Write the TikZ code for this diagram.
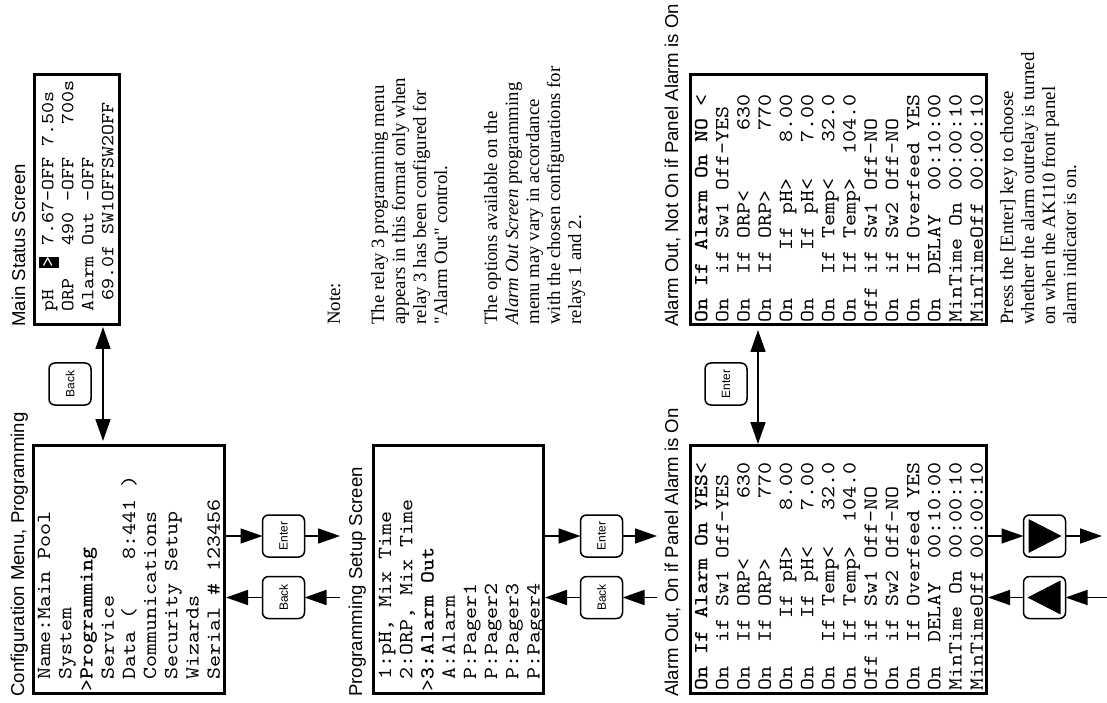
\documentclass[tikz,border=0pt]{standalone}
\usepackage{fontspec}
\usepackage{graphicx}
\setmainfont{Liberation Serif}
\setsansfont{Liberation Sans}
\setmonofont{lmmono10-regular.otf}[BoldFont=lmmonolt10-bold.otf, FakeStretch=1.143]
\usetikzlibrary{arrows.meta,calc}

\newcommand\monoF{\ttfamily\fontsize{10}{10.6}\selectfont}
\newcommand\monoS{\ttfamily\fontsize{9.17}{10}\selectfont}
\newcommand\titF{\sffamily\fontsize{9.3}{11}\selectfont}
\newcommand\btnF{\sffamily\fontsize{6}{7}\selectfont}
\newcommand\noteF{\rmfamily\fontsize{9.4}{10.5}\selectfont}
\newcommand\hlbox[1]{{\setlength{\fboxsep}{0pt}\colorbox{black}{\strut\textcolor{white}{#1}}}}
\newcommand\sq{\XeTeXglyph\XeTeXcharglyph"22\relax}

\begin{document}
\begin{tikzpicture}[x=0.5pt, y=0.5pt,
  >={Triangle[length=11pt,width=7.5pt]},
  screen/.style={draw, line width=1.5pt, inner sep=0pt, outer sep=0pt, anchor=south west},
  btn/.style={draw, line width=0.75pt, rounded corners=3pt, minimum width=21pt, minimum height=21pt, inner sep=0pt, outer sep=0pt, font=\btnF},
  conn/.style={line width=0.8pt, ->},
  dconn/.style={line width=0.8pt, <->},
  title/.style={rotate=90, anchor=base west, inner sep=0pt, font=\titF},
  txt/.style={rotate=90, anchor=north west, inner sep=0pt}]
\useasboundingbox (0,0) rectangle (1107,702);

% screens
\node[screen, minimum width=42.5pt, minimum height=125pt] (main) at (34,377) {};
\node[screen, minimum width=95.5pt, minimum height=124pt] (cfg) at (33,9) {};
\node[screen, minimum width=85pt, minimum height=124pt] (setup) at (373,9) {};
\node[screen, minimum width=148pt, minimum height=124pt] (yes) at (690,9) {};
\node[screen, minimum width=148pt, minimum height=125pt] (no) at (690,377) {};

% titles
\node[title] (tmain) at (25,375) {Main Status Screen};
\node[title] (tcfg) at (24,5) {Configuration Menu, Programming};
\node[title] (tsetup) at (362,5) {Programming Setup Screen};
\node[title] (tyes) at (678,5) {Alarm Out, On if Panel Alarm is On};
\node[title] (tno) at (678,375) {Alarm Out, Not On if Panel Alarm is On};

% screen texts
\node[txt, font=\monoS] (mainT) at (39,379) {\begin{tabular}{@{}l@{}}
~pH~~\hlbox{>}~7.67-OFF~7.50s\\
~ORP~~~490~-OFF~~~700s\\
~Alarm~Out~-OFF\\
~~69.0f~SW1OFFSW2OFF\end{tabular}};

\node[txt, font=\monoF] (cfgT) at (35,10) {\begin{tabular}{@{}l@{}}
~Name:Main~Pool\\
~System\\
>{\bfseries Programming}\\
~Service\\
~Data~(~~~~8:441~)\\
~Communications\\
~Security~Setup\\
~Wizards\\
~Serial~\#~123456\end{tabular}};

\node[txt, font=\monoF] (setupT) at (376,10) {\begin{tabular}{@{}l@{}}
~1:pH,~Mix~Time\\
~2:ORP,~Mix~Time\\
>{\bfseries 3:Alarm~Out}\\
~A:Alarm\\
~P:Pager1\\
~P:Pager2\\
~P:Pager3\\
~P:Pager4\end{tabular}};

\node[txt, font=\monoF] (yesT) at (692,11) {\begin{tabular}{@{}l@{}}
{\bfseries On~If~Alarm~On~YES}<\\
On~~if~Sw1~Off-YES\\
On~~If~ORP<~~~~~630\\
On~~If~ORP>~~~~~770\\
On~~~~If~pH>~~~8.00\\
On~~~~If~pH<~~~7.00\\
On~~If~Temp<~~~32.0\\
On~~If~Temp>~~104.0\\
Off~if~Sw1~Off-NO\\
On~~if~Sw2~Off-NO\\
On~~If~Overfeed~YES\\
On~~DELAY~~00:10:00\\
MinTime~On~00:00:10\\
MinTimeOff~00:00:10\end{tabular}};

\node[txt, font=\monoF] (noT) at (692,379) {\begin{tabular}{@{}l@{}}
{\bfseries On~If~Alarm~On~NO}~<\\
On~~if~Sw1~Off-YES\\
On~~If~ORP<~~~~~630\\
On~~If~ORP>~~~~~770\\
On~~~~If~pH>~~~8.00\\
On~~~~If~pH<~~~7.00\\
On~~If~Temp<~~~32.0\\
On~~If~Temp>~~104.0\\
Off~if~Sw1~Off-NO\\
On~~if~Sw2~Off-NO\\
On~~If~Overfeed~YES\\
On~~DELAY~~00:10:00\\
MinTime~On~00:00:10\\
MinTimeOff~00:00:10\end{tabular}};

% notes
\node[rotate=90, anchor=base west, inner sep=0pt, font=\noteF] (note) at (340,377) {Note:};
\node[txt, font=\noteF] (n1) at (369,377) {\begin{tabular}{@{}l@{}}
The relay 3 programming menu\\
appears in this format only when\\
relay 3 has been configured for\\
\sq Alarm Out\sq{} control.\end{tabular}};
\node[txt, font=\noteF] (n2) at (482,377) {\begin{tabular}{@{}l@{}}
The options available on the\\
\textit{Alarm Out Screen} programming\\
menu may vary in accordance\\
with the chosen configurations for\\
relays 1 and 2.\end{tabular}};
\node[txt, font=\noteF] (n3) at (998,377) {\begin{tabular}{@{}l@{}}
Press the [Enter] key to choose\\
whether the alarm outrelay is turned\\
on when the AK110 front panel\\
alarm indicator is on.\end{tabular}};

% buttons
\node[btn] (bk1) at (70,318) {\rotatebox{90}{Back}};
\node[btn] (ent1) at (283.5,166) {\rotatebox{90}{Enter}};
\node[btn] (bk2) at (283.5,104.5) {\rotatebox{90}{Back}};
\node[btn] (ent2) at (601.5,166) {\rotatebox{90}{Enter}};
\node[btn] (bk3) at (601.5,104.5) {\rotatebox{90}{Back}};
\node[btn] (ent3) at (726,318) {\rotatebox{90}{Enter}};
\node[btn] (nxt) at (1044.5,166) {};
\node[btn] (prv) at (1044.5,104.5) {};
\fill[shift={(nxt.center)}] (-16,-17) -- (17,0) -- (-16,17) -- cycle;
\fill[shift={(prv.center)}] (16,-17) -- (-17,0) -- (16,17) -- cycle;

% free ends
\coordinate (f1) at (340,166);
\coordinate (f2) at (340,104.5);
\coordinate (f3) at (657,166);
\coordinate (f4) at (657,104.5);
\coordinate (f5) at (1102,166);
\coordinate (f6) at (1107,104.5);

% connectors
\draw[dconn, shorten <=2pt, shorten >=1pt] ($(cfg.north west)+(70,0)$) -- ($(main.south west)+(69,0)$);
\draw[conn] (cfg.east |- ent1) -- (ent1.west);
\draw[conn] (ent1.east) -- (f1);
\draw[conn] (f2) -- (bk2.east);
\draw[conn, shorten >=1pt] (bk2.west) -- (cfg.east |- bk2);

\draw[conn] (setup.east |- ent2) -- (ent2.west);
\draw[conn] (ent2.east) -- (f3);
\draw[conn] (f4) -- (bk3.east);
\draw[conn, shorten >=1pt] (bk3.west) -- (setup.east |- bk3);

\draw[dconn, shorten <=0.5pt, shorten >=2.5pt] ($(yes.north west)+(68,0)$) -- ($(no.south west)+(68,0)$);
\draw[conn] (yes.east |- nxt) -- (nxt.west);
\draw[conn] (nxt.east) -- (f5);
\draw[conn] (f6) -- (prv.east);
\draw[conn, shorten >=1pt] (prv.west) -- (yes.east |- prv);
\end{tikzpicture}
\end{document}
